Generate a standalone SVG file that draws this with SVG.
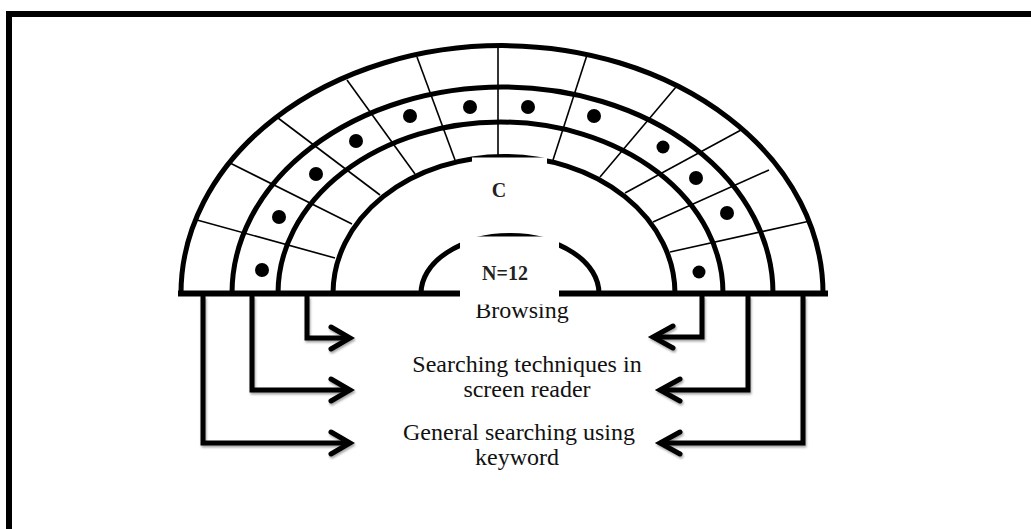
<svg xmlns="http://www.w3.org/2000/svg" width="1031" height="529" viewBox="0 0 1031 529">
<defs>
<style>
.ring{fill:none;stroke:#000;stroke-width:5}
.div{fill:none;stroke:#000;stroke-width:1.6}
.base{fill:none;stroke:#000;stroke-width:6}
.con{fill:none;stroke:#000;stroke-width:5;stroke-linejoin:miter}
.head{fill:none;stroke:#000;stroke-width:5;stroke-linecap:round;stroke-linejoin:miter}
.dot{fill:#000}
.lbl{font-family:"Liberation Serif","Times New Roman",serif;font-size:24px;fill:#111;text-anchor:middle}
.bold{font-family:"Liberation Serif","Times New Roman",serif;font-size:20px;font-weight:bold;fill:#222;text-anchor:middle}
</style>
<filter id="sh" x="-10%" y="-10%" width="130%" height="130%">
<feDropShadow dx="1" dy="2" stdDeviation="1.2" flood-color="#000" flood-opacity="0.35"/>
</filter>
</defs>
<rect width="1031" height="529" fill="#fff"/>
<g id="frame">
<line x1="6" y1="14" x2="1031" y2="14" stroke="#000" stroke-width="6"/>
<line x1="9" y1="11" x2="9" y2="529" stroke="#000" stroke-width="6"/>
</g>
<g id="arch">
<g id="dividers">
<line class="div" x1="197" y1="220" x2="335" y2="258"/>
<line class="div" x1="230" y1="163" x2="352" y2="224"/>
<line class="div" x1="278" y1="118" x2="380" y2="195"/>
<line class="div" x1="347" y1="80" x2="415" y2="174"/>
<line class="div" x1="417" y1="57" x2="455" y2="160"/>
<line class="div" x1="498" y1="47" x2="498" y2="155"/>
<line class="div" x1="587" y1="55" x2="553" y2="160"/>
<line class="div" x1="676" y1="87" x2="600" y2="177"/>
<line class="div" x1="741" y1="130" x2="625" y2="193"/>
<line class="div" x1="769" y1="170" x2="653" y2="222"/>
<line class="div" x1="810" y1="221" x2="670" y2="252"/>
</g>
<path class="ring" d="M 181 293.5 A 321 248 0 0 1 823 293.5"/>
<path class="ring" d="M 232 293.5 A 270.5 206.5 0 0 1 773 293.5"/>
<path class="ring" d="M 278 293.5 A 222.5 171.5 0 0 1 723 293.5"/>
<path class="ring" d="M 333 293.5 A 171 137 0 0 1 675 293.5"/>
<path class="ring" d="M 421 293.5 A 89 58 0 0 1 599 293.5"/>
<path class="base" d="M 178 293.5 H 460 M 559 293.5 H 828"/>
<g id="dots">
<circle class="dot" cx="262" cy="270" r="7"/>
<circle class="dot" cx="279" cy="217" r="7"/>
<circle class="dot" cx="316" cy="174" r="7"/>
<circle class="dot" cx="356" cy="141" r="7"/>
<circle class="dot" cx="410" cy="116" r="7"/>
<circle class="dot" cx="470" cy="107" r="7"/>
<circle class="dot" cx="528" cy="107" r="7"/>
<circle class="dot" cx="594" cy="116" r="7"/>
<circle class="dot" cx="663" cy="147" r="6.5"/>
<circle class="dot" cx="696" cy="178" r="7"/>
<circle class="dot" cx="727" cy="213" r="7"/>
<circle class="dot" cx="699" cy="272" r="6.5"/>
</g>
</g>
<g id="connectors" filter="url(#sh)">
<path class="con" d="M 307 296 V 338 H 347"/>
<path class="head" d="M 331 327 L 350 338 L 331 349"/>
<path class="con" d="M 252 296 V 390 H 347"/>
<path class="head" d="M 331 379 L 350 390 L 331 401"/>
<path class="con" d="M 203 296 V 443 H 347"/>
<path class="head" d="M 331 432 L 350 443 L 331 454"/>
<path class="con" d="M 702 296 V 337 H 656"/>
<path class="head" d="M 673 326 L 653 337 L 673 348"/>
<path class="con" d="M 748 296 V 390 H 663"/>
<path class="head" d="M 680 379 L 660 390 L 680 401"/>
<path class="con" d="M 803 296 V 443 H 663"/>
<path class="head" d="M 680 432 L 660 443 L 680 454"/>
</g>
<g id="node-browsing">
<text class="lbl" x="522" y="318">Browsing</text>
</g>
<g id="node-c">
<rect x="472" y="157.5" width="75" height="50" fill="#fff"/>
<text class="bold" x="499" y="197">C</text>
</g>
<g id="node-n12">
<rect x="460" y="236.5" width="99" height="68" fill="#fff"/>
<text class="bold" x="505" y="280">N=12</text>
</g>
<g id="node-screen">
<text class="lbl" x="527" y="372">Searching techniques in</text>
<text class="lbl" x="527" y="397">screen reader</text>
</g>
<g id="node-general">
<text class="lbl" x="519" y="440">General searching using</text>
<text class="lbl" x="517" y="465">keyword</text>
</g>
</svg>
